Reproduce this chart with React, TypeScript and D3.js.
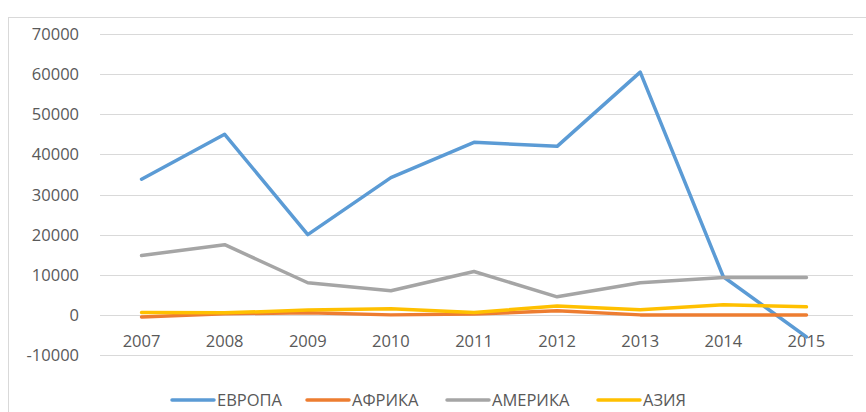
import * as d3 from 'd3'
import { useEffect, useRef } from 'react'

const years = ['2007', '2008', '2009', '2010', '2011', '2012', '2013', '2014', '2015']
const europe = [33800, 45000, 20000, 34200, 43000, 42000, 60500, 9500, -5500]
const africa = [-500, 300, 500, 0, 200, 1000, 0, 0, 0]
const america = [14800, 17500, 8000, 6000, 10800, 4500, 8000, 9300, 9300]
const asia = [600, 500, 1200, 1500, 600, 2200, 1300, 2500, 2000]
const yTicks = [-10000, 0, 10000, 20000, 30000, 40000, 50000, 60000, 70000]

const series = [
  { name: 'ЕВРОПА', values: europe, color: '#5B9BD5' },
  { name: 'АФРИКА', values: africa, color: '#ED7D31' },
  { name: 'АМЕРИКА', values: america, color: '#A5A5A5' },
  { name: 'АЗИЯ', values: asia, color: '#FFC000' },
]

const App = () => {
  const ref = useRef<SVGSVGElement>(null)

  useEffect(() => {
    const svg = d3.select(ref.current)
    svg.selectAll('*').remove()
    const font = '"Open Sans", sans-serif'
    const fontSize = '16.5px'

    // chart frame
    svg
      .append('rect')
      .attr('x', 8.5)
      .attr('y', 17.5)
      .attr('width', 860)
      .attr('height', 420)
      .attr('fill', '#fff')
      .attr('stroke', '#d9d9d9')

    const x = d3.scaleBand().domain(years).range([100, 848])
    const y = d3.scaleLinear().domain([-10000, 70000]).range([355, 34])

    // grid
    svg
      .append('g')
      .selectAll('line')
      .data(yTicks)
      .join('line')
      .attr('x1', 100)
      .attr('x2', 853)
      .attr('y1', (d) => Math.round(y(d)) + 0.5)
      .attr('y2', (d) => Math.round(y(d)) + 0.5)
      .attr('stroke', '#d9d9d9')

    svg
      .append('g')
      .selectAll('text')
      .data(yTicks)
      .join('text')
      .attr('x', 79)
      .attr('y', (d) => y(d) + 6)
      .attr('text-anchor', 'end')
      .attr('fill', '#595959')
      .style('font-family', font)
      .style('font-size', fontSize)
      .text((d) => d)

    svg
      .append('g')
      .selectAll('text')
      .data(years)
      .join('text')
      .attr('x', (d) => x(d)! + x.bandwidth() / 2)
      .attr('y', 347)
      .attr('text-anchor', 'middle')
      .attr('fill', '#595959')
      .style('font-family', font)
      .style('font-size', fontSize)
      .text((d) => d)

    const line = d3
      .line<number>()
      .x((_, i) => x(years[i])! + x.bandwidth() / 2)
      .y((d) => y(d))

    svg
      .append('g')
      .selectAll('path')
      .data(series)
      .join('path')
      .attr('d', (s) => line(s.values))
      .attr('fill', 'none')
      .attr('stroke', (s) => s.color)
      .attr('stroke-width', 3.5)
      .attr('stroke-linejoin', 'round')
      .attr('stroke-linecap', 'round')

    // legend
    const legendX = [172, 307, 447, 598]
    const lg = svg
      .append('g')
      .selectAll('g')
      .data(series)
      .join('g')
      .attr('transform', (_, i) => `translate(${legendX[i]}, 400)`)
    lg.append('line')
      .attr('x1', 0)
      .attr('x2', 42)
      .attr('stroke', (s) => s.color)
      .attr('stroke-width', 3.5)
      .attr('stroke-linecap', 'round')
    lg.append('text')
      .attr('x', 45)
      .attr('y', 6)
      .attr('fill', '#595959')
      .style('font-family', font)
      .style('font-size', fontSize)
      .text((s) => s.name)
  }, [])

  return (
    <svg
      ref={ref}
      width={866}
      height={412}
      style={{ position: 'absolute', left: 0, top: 0 }}
    ></svg>
  )
}

export default App
